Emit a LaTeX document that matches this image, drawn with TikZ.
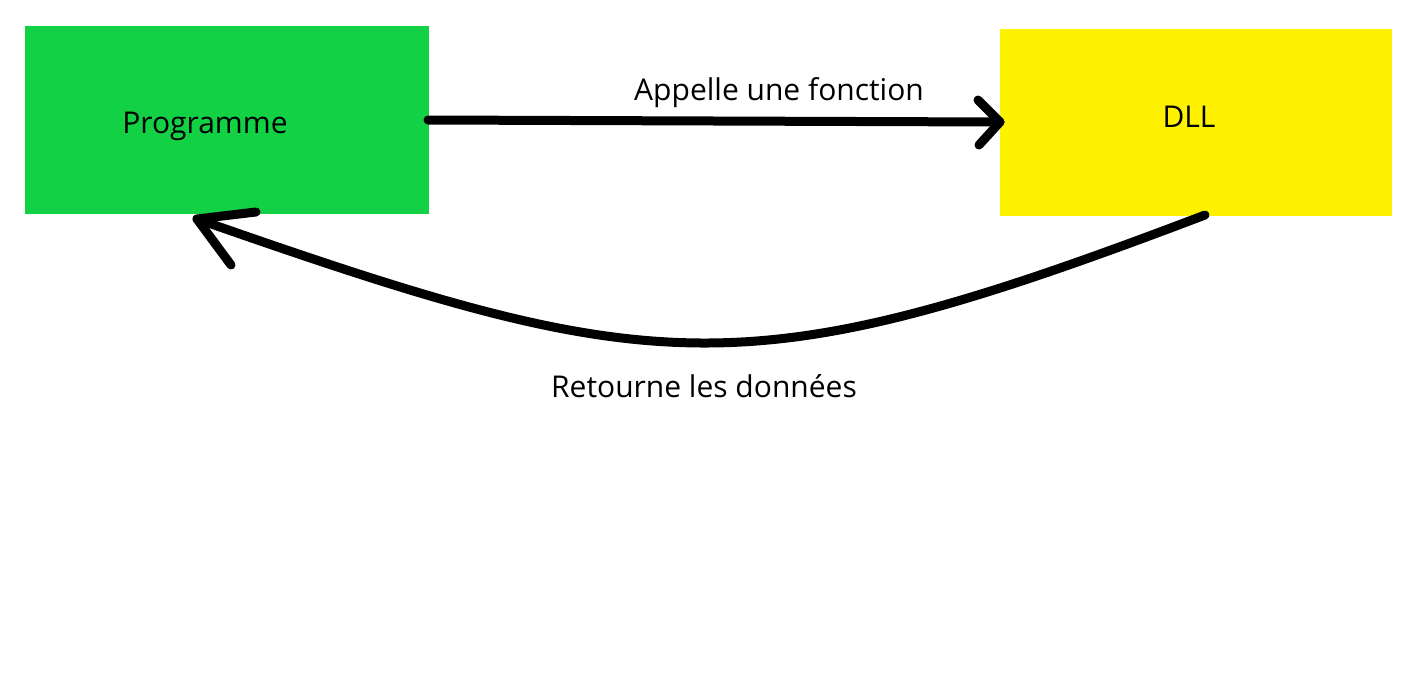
\documentclass[tikz,border=0pt]{standalone}
\usepackage{fontspec}
\setmainfont{Open Sans}
\definecolor{boxgreen}{RGB}{18,209,69}
\definecolor{boxyellow}{RGB}{255,242,0}
\begin{document}
\begin{tikzpicture}[x=1pt,y=-1pt,
  box/.style={inner sep=0pt, outer sep=0pt, anchor=north west},
  lbl/.style={font=\fontsize{30}{36}\selectfont, anchor=base, inner sep=0pt},
  pen/.style={line width=9pt, line cap=round, line join=round, black}]
\useasboundingbox[fill=white] (0,0) rectangle (1416,672);
\node[box, fill=boxgreen, minimum width=404pt, minimum height=188pt] (prog) at (25,26) {};
\node[box, fill=boxyellow, minimum width=392pt, minimum height=187pt] (dll) at (1000,29) {};
\node[lbl] (progtxt) at (205,133) {Programme};
\node[lbl] (dlltxt) at (1189,127) {DLL};
\node[lbl] (calltxt) at (779,100) {Appelle une fonction};
\node[lbl] (rettxt) at (704,397) {Retourne les données};
% call arrow
\coordinate (a1s) at (428,120);
\coordinate (a1e) at (1000,122);
\coordinate (a1u) at (978,100);
\coordinate (a1d) at (979,145);
\draw[pen] (a1s) -- (a1e);
\draw[pen] (a1u) -- (a1e) -- (a1d);
% return arrow
\coordinate (a2s) at (1205,215);
\coordinate (a2e) at (197,219);
\coordinate (a2u) at (256,212);
\coordinate (a2d) at (231,265);
\draw[pen] (a2s) .. controls (745,390) and (657,380) .. (a2e);
\draw[pen] (a2u) -- (a2e) -- (a2d);
\end{tikzpicture}
\end{document}
